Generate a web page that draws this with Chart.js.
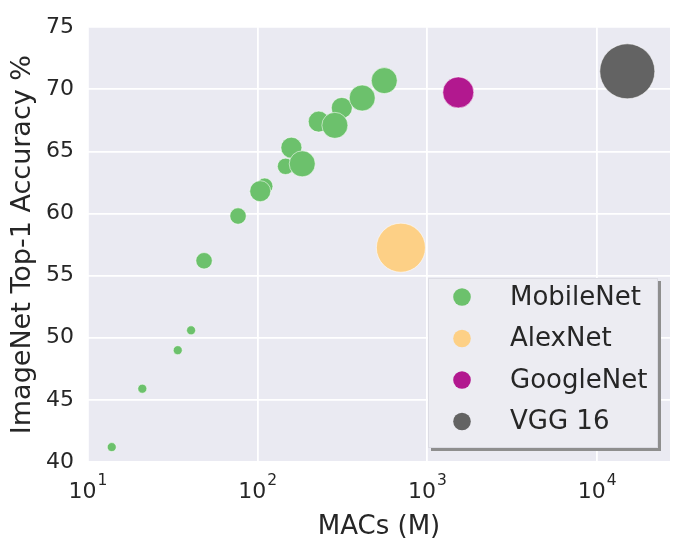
<!DOCTYPE html>
<html>
<head>
<meta charset="utf-8">
<script src="https://cdn.jsdelivr.net/npm/chart.js@4"></script>
<style>
  html, body { margin: 0; padding: 0; background: #fff; }
  #wrap { width: 673px; height: 555px; }
</style>
</head>
<body>
<div id="wrap"><canvas id="chart" width="673" height="555"></canvas></div>
<script>
// MobileNet variants, grouped by width multiplier (0.25, 0.5, 0.75, 1.0)
const mobileNetMacs = [13.8, 20.9, 33.8, 40.5, 48.3, 76.6, 110, 146, 103.5, 158, 229, 313, 183, 285, 413, 557];
const mobileNetAcc = [41.2, 45.9, 49.0, 50.6, 56.2, 59.8, 62.2, 63.8, 61.8, 65.3, 67.4, 68.5, 64.0, 67.1, 69.3, 70.7];
const mobileNetSize = [4.5, 4.5, 4.5, 4.5, 8.2, 8.2, 8.2, 8.2, 10.5, 10.5, 10.5, 10.5, 13, 13, 13, 13];

const alexNetMacs = [698];
const alexNetAcc = [57.25];
const alexNetSize = [24.5];

const googleNetMacs = [1521];
const googleNetAcc = [69.75];
const googleNetSize = [15.5];

const vggMacs = [15070];
const vggAcc = [71.45];
const vggSize = [27.5];

const xTickValues = [10, 100, 1000, 10000];
const xTickExponents = ["1", "2", "3", "4"];
const yTickValues = [40, 45, 50, 55, 60, 65, 70, 75];

const FONT = "'DejaVu Sans', sans-serif";
const TEXT = "#262626";

function points(xs, ys, rs) {
  return xs.map((x, i) => ({ x: x, y: ys[i], r: rs[i] }));
}

function series(label, xs, ys, rs, color) {
  return {
    label: label,
    data: points(xs, ys, rs),
    backgroundColor: color,
    borderColor: "rgba(255,255,255,0.55)",
    borderWidth: 1
  };
}

// plot background
const plotBg = {
  id: "plotBg",
  beforeDraw(chart) {
    const a = chart.chartArea, ctx = chart.ctx;
    ctx.save();
    ctx.fillStyle = "#eaeaf2";
    ctx.fillRect(a.left, a.top, a.right - a.left, a.bottom - a.top);
    ctx.restore();
  }
};

// x tick labels as 10 with a raised exponent, like mathtext
const powerTicks = {
  id: "powerTicks",
  afterDraw(chart) {
    const x = chart.scales.x, a = chart.chartArea, ctx = chart.ctx;
    ctx.save();
    ctx.fillStyle = TEXT;
    ctx.textBaseline = "alphabetic";
    xTickValues.forEach((v, i) => {
      const px = x.getPixelForValue(v);
      ctx.font = "22px " + FONT;
      const w1 = ctx.measureText("10").width;
      ctx.font = "15.5px " + FONT;
      const w2 = ctx.measureText(xTickExponents[i]).width;
      const start = px - (w1 + 1 + w2) / 2;
      ctx.font = "22px " + FONT;
      ctx.fillText("10", start, a.bottom + 36);
      ctx.font = "15.5px " + FONT;
      ctx.fillText(xTickExponents[i], start + w1 + 1, a.bottom + 23);
    });
    ctx.restore();
  }
};

// legend box inside the axes, with a drop shadow
const boxLegend = {
  id: "boxLegend",
  afterDatasetsDraw(chart) {
    const a = chart.chartArea, ctx = chart.ctx;
    const w = 230, h = 170;
    const left = a.right - 12 - w, top = a.bottom - 14 - h;
    ctx.save();
    ctx.fillStyle = "#8e8e8e";
    ctx.fillRect(left + 3, top + 3, w, h);
    ctx.fillStyle = "#ececf2";
    ctx.fillRect(left, top, w, h);
    ctx.strokeStyle = "#dcdce4";
    ctx.lineWidth = 1;
    ctx.strokeRect(left + 0.5, top + 0.5, w - 1, h - 1);
    ctx.font = "26px " + FONT;
    ctx.textBaseline = "middle";
    chart.data.datasets.forEach((ds, i) => {
      const cy = top + 19 + i * 41.5;
      ctx.beginPath();
      ctx.arc(left + 34, cy, 8.8, 0, Math.PI * 2);
      ctx.fillStyle = ds.backgroundColor;
      ctx.fill();
      ctx.fillStyle = TEXT;
      ctx.fillText(ds.label, left + 82, cy + 1);
    });
    ctx.restore();
  }
};

new Chart(document.getElementById("chart"), {
  type: "bubble",
  data: {
    datasets: [
      series("MobileNet", mobileNetMacs, mobileNetAcc, mobileNetSize, "#6cc16c"),
      series("AlexNet", alexNetMacs, alexNetAcc, alexNetSize, "#fdd086"),
      series("GoogleNet", googleNetMacs, googleNetAcc, googleNetSize, "#b2188f"),
      series("VGG 16", vggMacs, vggAcc, vggSize, "#636363")
    ]
  },
  options: {
    responsive: false,
    animation: false,
    devicePixelRatio: 1,
    layout: { autoPadding: false, padding: { left: 0, top: 27, right: 3, bottom: 0 } },
    plugins: {
      legend: { display: false },
      tooltip: { enabled: false }
    },
    scales: {
      x: {
        type: "logarithmic",
        min: 10,
        max: 26900,
        afterFit: s => { s.height = 93; },
        afterBuildTicks: s => { s.ticks = xTickValues.map(v => ({ value: v })); },
        border: { display: false },
        grid: { color: "#ffffff", lineWidth: 1.8, drawTicks: false },
        ticks: { display: false },
        title: {
          display: true,
          text: "MACs (M)",
          color: TEXT,
          font: { family: FONT, size: 26 },
          padding: { top: 0, bottom: 12 }
        }
      },
      y: {
        min: 40,
        max: 75,
        afterFit: s => { s.width = 88; },
        afterBuildTicks: s => { s.ticks = yTickValues.map(v => ({ value: v })); },
        border: { display: false },
        grid: { color: "#ffffff", lineWidth: 1.8, drawTicks: false },
        ticks: {
          color: TEXT,
          font: { family: FONT, size: 22 },
          padding: 14
        },
        title: {
          display: true,
          text: "ImageNet Top-1 Accuracy %",
          color: TEXT,
          font: { family: FONT, size: 27 },
          padding: { top: 7, bottom: 0 }
        }
      }
    }
  },
  plugins: [plotBg, powerTicks, boxLegend]
});
</script>
</body>
</html>
